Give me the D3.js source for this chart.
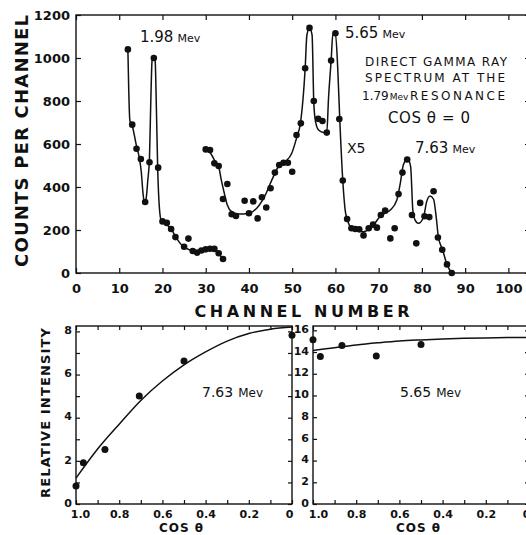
<!DOCTYPE html>
<html>
<head>
<meta charset="utf-8">
<script src="https://cdn.jsdelivr.net/npm/d3@7"></script>
<style>
  body { margin: 0; background: #fff; }
  text { font-family: "DejaVu Sans", sans-serif; fill: #111; }
</style>
</head>
<body>
<div id="chart"></div>
<script>
// ---------- spectrum data ----------
// low-energy part, channels 12-34
const lowChannels = [12,13,14,15,16,17,18,19,20,21,22,23,25,26,27,28,29,30,31,32,33,34];
const lowCounts   = [1040,690,578,530,330,515,1000,490,240,233,205,167,122,160,102,95,105,110,113,112,92,65];

// high-energy part (x5), channels 30-87
const highChannels = [30,31,32,33,34,35,36,37,39,40,41,42,43,44,45,46,47,48,49,50,
  51,52,53,54,55,56,57,58,59,60,60.9,61.7,62.7,63.7,64.6,65.5,66.5,67.7,68.7,69.6,
  70.5,71.5,72.7,73.7,74.6,75.5,76.6,77.7,78.7,79.6,80.6,81.7,82.7,83.7,84.7,85.8,86.9];
const highCounts = [575,572,510,498,344,414,273,265,336,278,333,254,352,305,394,467,502,513,513,471,
  642,696,952,1140,800,717,707,653,988,1115,716,430,251,208,205,203,175,208,225,211,
  270,290,161,208,367,467,528,270,138,326,264,260,380,165,108,40,0];

// hand-drawn smooth curves (channel, counts)
const lowCurve = [[12,1040],[12.2,850],[12.45,710],[13,685],[14,590],[14.6,540],[15.1,470],[15.5,370],
  [15.8,330],[16.2,345],[16.6,430],[17,540],[17.3,800],[17.6,990],[17.95,1012],[18.3,990],[18.6,760],
  [18.9,480],[19.3,300],[19.7,245],[20.5,232],[22,205],[23,170],[24,140],[25,120],[26,110],[27,100],
  [28,97],[29,103],[30,110],[31,113],[32,110],[33,90],[34,65]];
const highCurve = [[29.7,572],[31,560],[32.2,518],[33,494],[33.6,433],[34.3,371],[35,316],[36,285],
  [37.6,274],[40,278],[41.8,301],[43.8,363],[45.3,433],[46.8,494],[48.4,518],[49.9,557],[51.1,634],
  [51.9,696],[53,952],[53.4,1107],[54,1141],[54.6,1107],[55,790],[55.4,704],[56.1,665],[57.2,654],
  [58,653],[58.4,812],[59,986],[59.4,1107],[60,1113],[60.5,967],[61,716],[61.7,430],[62.3,285],
  [62.7,251],[63.8,208],[66.5,192],[68.8,223],[70.3,262],[71.5,278],[72.7,293],[74.2,340],[75,417],
  [75.7,502],[76.7,533],[77.4,494],[77.9,293],[78.4,247],[79.2,231],[80.4,262],[81.1,332],[81.9,358],
  [82.7,343],[83.3,262],[83.8,169],[84.8,107],[85.8,40],[86.9,0]];

const channelTicks = [0,10,20,30,40,50,60,70,80,90,100];
const countTicks = [0,200,400,600,800,1000,1200];

// ---------- angular distributions ----------
const cosValues = [1.0, 0.966, 0.866, 0.707, 0.5, 0];
const int763 = [0.83, 1.91, 2.53, 5.0, 6.63, 7.82];
const int565 = [15.14, 13.6, 14.6, 13.64, 14.7];   // cos 0 point lies outside the picture

const fitCos = [1, 0.9, 0.8, 0.7, 0.6, 0.5, 0.4, 0.3, 0.2, 0.1, 0];
const fit763 = [1.2, 2.55, 3.7, 4.8, 5.7, 6.45, 7.05, 7.55, 7.9, 8.1, 8.2];
const fit565 = [14.15, 14.4, 14.65, 14.85, 15.02, 15.12, 15.2, 15.26, 15.3, 15.33, 15.35];

const cosTicks = d3.range(0, 11).map(i => i / 10);
const cosLabels = [1.0, 0.8, 0.6, 0.4, 0.2, 0];

// ---------- svg ----------
const W = 526, H = 535;
const ink = "#111";
const svg = d3.select("#chart").append("svg")
  .attr("width", W).attr("height", H);

function frame(x0, y0, x1, y1) {
  svg.append("rect")
    .attr("x", x0).attr("y", y0)
    .attr("width", x1 - x0).attr("height", y1 - y0)
    .attr("fill", "none").attr("stroke", ink).attr("stroke-width", 1.4);
}

function axisGroup(axis, tx, ty, fontSize) {
  const g = svg.append("g")
    .attr("transform", `translate(${tx},${ty})`)
    .call(axis);
  g.select(".domain").remove();
  g.selectAll("line").attr("stroke", ink).attr("stroke-width", 1.2);
  g.selectAll("text")
    .attr("fill", ink)
    .style("font-family", "DejaVu Sans, sans-serif")
    .style("font-weight", "bold")
    .style("font-size", fontSize + "px");
  return g;
}

// ---------- top spectrum ----------
const x = d3.scaleLinear().domain([0, 105]).range([76, 530]);
const y = d3.scaleLinear().domain([0, 1200]).range([273, 15]);

frame(76, 15, 530, 273);

axisGroup(d3.axisBottom(x).tickValues(channelTicks).tickSize(-5).tickPadding(11), 0, 273, 13);
axisGroup(d3.axisTop(x).tickValues(channelTicks).tickSize(-5).tickFormat(""), 0, 15, 13);
axisGroup(d3.axisLeft(y).tickValues(countTicks).tickSize(-5).tickPadding(6).tickFormat(d3.format("d")), 76, 0, 13);
axisGroup(d3.axisRight(y).tickValues(countTicks).tickSize(-5).tickFormat(""), 530, 0, 13);

const line = d3.line()
  .x(d => x(d[0])).y(d => y(d[1]))
  .curve(d3.curveMonotoneX);

[lowCurve, highCurve].forEach(c => {
  svg.append("path")
    .attr("d", line(c))
    .attr("fill", "none").attr("stroke", ink).attr("stroke-width", 1.5);
});

svg.append("g").selectAll("circle")
  .data(lowChannels.map((c, i) => [c, lowCounts[i]]))
  .join("circle")
  .attr("cx", d => x(d[0])).attr("cy", d => y(d[1])).attr("r", 3.3).attr("fill", ink);

svg.append("g").selectAll("circle")
  .data(highChannels.map((c, i) => [c, highCounts[i]]))
  .join("circle")
  .attr("cx", d => x(d[0])).attr("cy", d => y(d[1])).attr("r", 3.3).attr("fill", ink);

// axis titles
svg.append("text")
  .attr("transform", "translate(28,141) rotate(-90)")
  .attr("text-anchor", "middle")
  .attr("textLength", 252).attr("lengthAdjust", "spacing")
  .style("font-size", "18px").style("font-weight", "bold")
  .text("COUNTS PER CHANNEL");

svg.append("text")
  .attr("x", 302).attr("y", 317)
  .attr("text-anchor", "middle")
  .attr("textLength", 215).attr("lengthAdjust", "spacing")
  .style("font-size", "16px").style("font-weight", "bold")
  .text("CHANNEL NUMBER");

// peak labels
function energyLabel(px, py, num, big, small) {
  const t = svg.append("text").attr("x", px).attr("y", py);
  t.append("tspan").style("font-size", big + "px").text(num);
  t.append("tspan").attr("dx", 4).style("font-size", small + "px").text("Mev");
}
energyLabel(140, 42, "1.98", 15, 11);
energyLabel(345, 38, "5.65", 15, 11);
energyLabel(415, 153, "7.63", 15, 11);

svg.append("text").attr("x", 347).attr("y", 153)
  .style("font-size", "14px").text("X5");

svg.append("text").attr("x", 365).attr("y", 66)
  .attr("textLength", 142).attr("lengthAdjust", "spacing")
  .style("font-size", "12px").text("DIRECT GAMMA RAY");
svg.append("text").attr("x", 365).attr("y", 82)
  .attr("textLength", 140).attr("lengthAdjust", "spacing")
  .style("font-size", "12px").text("SPECTRUM AT THE");
const res = svg.append("text").attr("x", 362).attr("y", 100);
res.append("tspan").style("font-size", "12px").text("1.79");
res.append("tspan").attr("dx", 1).style("font-size", "9px").text("Mev");
svg.append("text").attr("x", 410).attr("y", 100)
  .attr("textLength", 95).attr("lengthAdjust", "spacing")
  .style("font-size", "12px").text("RESONANCE");
svg.append("text").attr("x", 388).attr("y", 123)
  .attr("textLength", 82).attr("lengthAdjust", "spacing")
  .style("font-size", "15px").text("COS θ = 0");

// ---------- bottom panels ----------
function panel(x0, x1, yMax, yTicks, yLabelTicks, dotsCos, dotsVal, fitVal, label, labelX, edgeShift) {
  const px = d3.scaleLinear().domain([1, 0]).range([x0, x1]);
  const py = d3.scaleLinear().domain([0, yMax]).range([504, 326]);

  frame(x0, 326, x1, 504);

  const gx = axisGroup(d3.axisBottom(px).tickValues(cosTicks).tickSize(-4).tickPadding(6)
    .tickFormat(d => cosLabels.includes(d) ? (d === 0 ? "0" : d3.format(".1f")(d)) : ""), 0, 504, 11);
  // end labels sit a little inside the corners
  gx.selectAll("text").attr("dx", d => d === 1 ? edgeShift : d === 0 ? -3 : 0);
  axisGroup(d3.axisTop(px).tickValues(cosTicks).tickSize(-4).tickFormat(""), 0, 326, 11);
  const gy = axisGroup(d3.axisLeft(py).tickValues(yTicks).tickSize(-4).tickPadding(4)
    .tickFormat(d => yLabelTicks.includes(d) ? d : ""), x0, 0, 11);
  gy.selectAll("text").attr("dy", "0.2em");
  axisGroup(d3.axisRight(py).tickValues(yTicks).tickSize(-4).tickFormat(""), x1, 0, 11);

  const fitLine = d3.line()
    .x(d => px(d[0])).y(d => py(d[1]))
    .curve(d3.curveMonotoneX);
  svg.append("path")
    .attr("d", fitLine(fitCos.map((c, i) => [c, fitVal[i]]).reverse()))
    .attr("fill", "none").attr("stroke", ink).attr("stroke-width", 1.5);

  svg.append("g").selectAll("circle")
    .data(dotsVal.map((v, i) => [dotsCos[i], v]))
    .join("circle")
    .attr("cx", d => px(d[0])).attr("cy", d => py(d[1])).attr("r", 3.5).attr("fill", ink);

  const t = svg.append("text").attr("x", labelX).attr("y", 397);
  t.append("tspan").style("font-size", "14px").text(label);
  t.append("tspan").attr("dx", 5).style("font-size", "12px").text("Mev");

  svg.append("text")
    .attr("x", (x0 + x1) / 2 - 3).attr("y", 532)
    .attr("text-anchor", "middle")
    .attr("textLength", 44).attr("lengthAdjust", "spacing")
    .style("font-size", "12px").style("font-weight", "bold")
    .text("COS θ");
}

panel(76, 292, 8.25, d3.range(0, 9), [0, 2, 4, 6, 8], cosValues, int763, fit763, "7.63", 202, 4);
panel(313, 529, 16.4, d3.range(0, 17, 2), d3.range(0, 17, 2), cosValues.slice(0, 5), int565, fit565, "5.65", 400, 5);

svg.append("text")
  .attr("transform", "translate(50,413) rotate(-90)")
  .attr("text-anchor", "middle")
  .attr("textLength", 170).attr("lengthAdjust", "spacing")
  .style("font-size", "13px").style("font-weight", "bold")
  .text("RELATIVE INTENSITY");
</script>
</body>
</html>
